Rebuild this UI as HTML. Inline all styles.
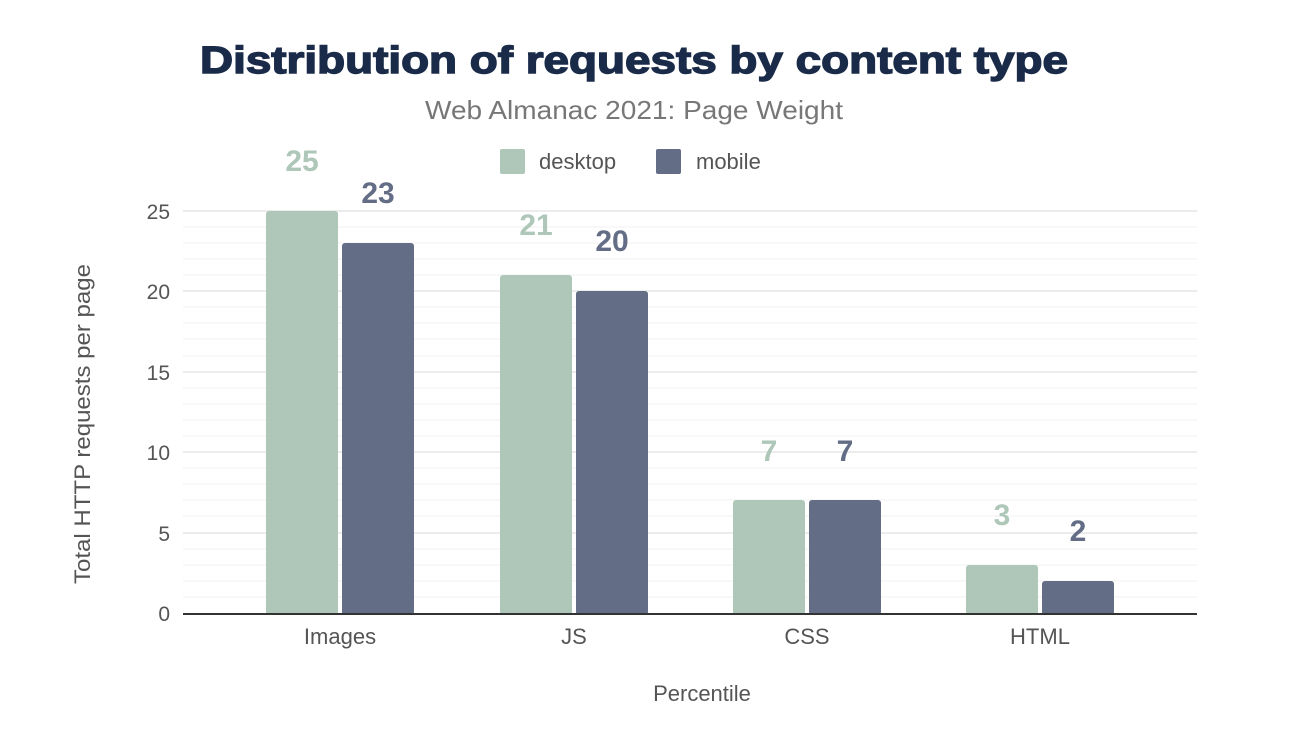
<!DOCTYPE html>
<html><head><meta charset="utf-8"><style>
body{margin:0;background:#fff;width:1294px;height:732px;overflow:hidden}
svg{display:block;font-family:"Liberation Sans",Arial,sans-serif}
</style></head><body>
<svg width="1294" height="732" viewBox="0 0 1294 732">
<rect width="1294" height="732" fill="#fff"/>
<text x="200" y="73" textLength="868" lengthAdjust="spacingAndGlyphs" font-size="38" font-weight="900" fill="#1a2b49" stroke="#1a2b49" stroke-width="1.4">Distribution of requests by content type</text>
<text x="425" y="119" textLength="418" lengthAdjust="spacingAndGlyphs" font-size="26" fill="#777">Web Almanac 2021: Page Weight</text>
<rect x="500" y="149" width="25" height="25" rx="2" fill="#aec7b9"/>
<text x="539" y="169" font-size="22" fill="#555">desktop</text>
<rect x="656" y="149" width="25" height="25" rx="2" fill="#646d86"/>
<text x="696" y="169" font-size="22" fill="#555">mobile</text>
<g stroke="#f5f5f5" stroke-width="1.5">
<line x1="183" x2="1197" y1="227" y2="227"/>
<line x1="183" x2="1197" y1="243" y2="243"/><line x1="183" x2="1197" y1="259" y2="259"/><line x1="183" x2="1197" y1="275" y2="275"/>
<line x1="183" x2="1197" y1="307" y2="307"/><line x1="183" x2="1197" y1="323" y2="323"/><line x1="183" x2="1197" y1="339" y2="339"/><line x1="183" x2="1197" y1="356" y2="356"/>
<line x1="183" x2="1197" y1="388" y2="388"/><line x1="183" x2="1197" y1="404" y2="404"/><line x1="183" x2="1197" y1="420" y2="420"/><line x1="183" x2="1197" y1="436" y2="436"/>
<line x1="183" x2="1197" y1="468" y2="468"/><line x1="183" x2="1197" y1="484" y2="484"/><line x1="183" x2="1197" y1="500" y2="500"/><line x1="183" x2="1197" y1="516" y2="516"/>
<line x1="183" x2="1197" y1="549" y2="549"/><line x1="183" x2="1197" y1="565" y2="565"/><line x1="183" x2="1197" y1="581" y2="581"/><line x1="183" x2="1197" y1="597" y2="597"/>
</g>
<g stroke="#ececec" stroke-width="2">
<line x1="183" x2="1197" y1="211" y2="211"/><line x1="183" x2="1197" y1="291" y2="291"/><line x1="183" x2="1197" y1="372" y2="372"/><line x1="183" x2="1197" y1="452" y2="452"/><line x1="183" x2="1197" y1="533" y2="533"/>
</g>
<g font-size="21" fill="#555" text-anchor="end">
<text x="170" y="219">25</text><text x="170" y="299">20</text><text x="170" y="380">15</text><text x="170" y="460">10</text><text x="170" y="541">5</text><text x="170" y="621">0</text>
</g>
<g fill="#aec7b9">
<rect x="266" y="211" width="72" height="404" rx="3"/>
<rect x="500" y="275" width="72" height="340" rx="3"/>
<rect x="733" y="500" width="72" height="115" rx="3"/>
<rect x="966" y="565" width="72" height="50" rx="3"/>
</g>
<g fill="#646d86">
<rect x="342" y="243" width="72" height="372" rx="3"/>
<rect x="576" y="291" width="72" height="324" rx="3"/>
<rect x="809" y="500" width="72" height="115" rx="3"/>
<rect x="1042" y="581" width="72" height="34" rx="3"/>
</g>
<line x1="183" x2="1197" y1="614" y2="614" stroke="#333" stroke-width="2"/>
<g font-size="30" font-weight="bold" text-anchor="middle">
<text x="302" y="171" fill="#aec7b9">25</text><text x="378" y="203" fill="#646d86">23</text>
<text x="536" y="235" fill="#aec7b9">21</text><text x="612" y="251" fill="#646d86">20</text>
<text x="769" y="461" fill="#aec7b9">7</text><text x="845" y="461" fill="#646d86">7</text>
<text x="1002" y="525" fill="#aec7b9">3</text><text x="1078" y="541" fill="#646d86">2</text>
</g>
<g font-size="22" fill="#555" text-anchor="middle">
<text x="340" y="644">Images</text><text x="574" y="644">JS</text><text x="807" y="644">CSS</text><text x="1040" y="644">HTML</text>
<text x="702" y="701">Percentile</text>
<text transform="translate(90,424) rotate(-90)" textLength="320" lengthAdjust="spacingAndGlyphs">Total HTTP requests per page</text>
</g>
</svg>
</body></html>
